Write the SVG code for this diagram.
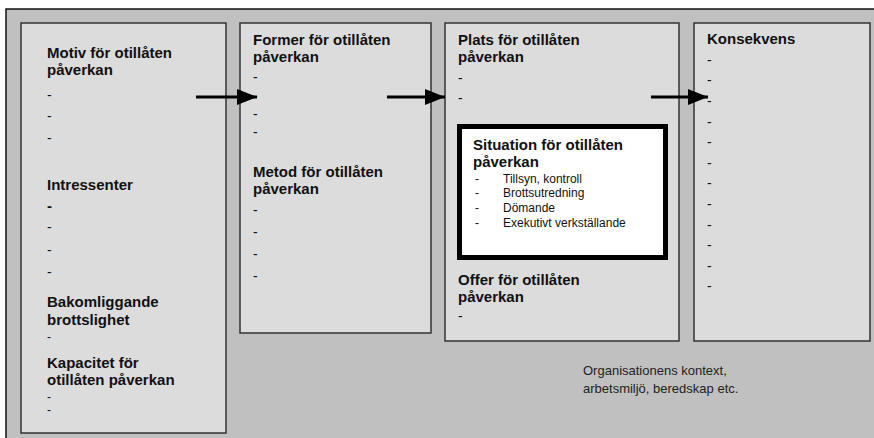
<svg xmlns="http://www.w3.org/2000/svg" width="874" height="438" viewBox="0 0 874 438">
<defs>
<style>
.bg{fill:#c0c0c0;stroke:#111;stroke-width:1.5}
.box{fill:#dcdcdc;stroke:#333;stroke-width:1.5}
.h{font-family:"Liberation Sans",Arial,sans-serif;font-weight:bold;font-size:15px;fill:#111}
.d{font-family:"Liberation Sans",Arial,sans-serif;font-size:14px;fill:#111}
.s{font-family:"Liberation Sans",Arial,sans-serif;font-size:12px;fill:#111}
.c{font-family:"Liberation Sans",Arial,sans-serif;font-size:13px;fill:#222}
.arr{stroke:#000;stroke-width:3;fill:none;marker-end:url(#ah)}
</style>
<marker id="ah" viewBox="0 0 20 16" refX="20" refY="8" markerWidth="20" markerHeight="16" markerUnits="userSpaceOnUse" orient="auto">
<path d="M0,0 L20,8 L0,16 Z" fill="#000"/>
</marker>
</defs>
<rect class="bg" x="6" y="9" width="880" height="440"/>
<g id="motiv">
<rect class="box" x="21" y="23" width="205" height="410"/>
<text class="h" x="47" y="58">Motiv för otillåten</text>
<text class="h" x="47" y="75">påverkan</text>
<text class="d" x="47" y="100">-</text>
<text class="d" x="47" y="121">-</text>
<text class="d" x="47" y="143">-</text>
<text class="h" x="47" y="190">Intressenter</text>
<text class="h" x="47" y="211">-</text>
<text class="d" x="47" y="232">-</text>
<text class="d" x="47" y="255">-</text>
<text class="d" x="47" y="277">-</text>
<text class="h" x="47" y="307">Bakomliggande</text>
<text class="h" x="47" y="325">brottslighet</text>
<text class="s" x="47" y="341">-</text>
<text class="h" x="47" y="368">Kapacitet för</text>
<text class="h" x="47" y="385">otillåten påverkan</text>
<text class="s" x="47" y="401">-</text>
<text class="s" x="47" y="414">-</text>
</g>
<g id="former">
<rect class="box" x="240" y="23" width="191" height="310"/>
<text class="h" x="253" y="45">Former för otillåten</text>
<text class="h" x="253" y="62">påverkan</text>
<text class="d" x="253" y="82">-</text>
<text class="d" x="253" y="101">-</text>
<text class="d" x="253" y="119">-</text>
<text class="d" x="253" y="137">-</text>
<text class="h" x="253" y="177">Metod för otillåten</text>
<text class="h" x="253" y="194">påverkan</text>
<text class="d" x="253" y="215">-</text>
<text class="d" x="253" y="237">-</text>
<text class="d" x="253" y="259">-</text>
<text class="d" x="253" y="281">-</text>
</g>
<g id="plats">
<rect class="box" x="445" y="23" width="234" height="318"/>
<text class="h" x="458" y="45">Plats för otillåten</text>
<text class="h" x="458" y="62">påverkan</text>
<text class="d" x="458" y="83">-</text>
<text class="d" x="458" y="103">-</text>
<text class="h" x="458" y="285">Offer för otillåten</text>
<text class="h" x="458" y="302">påverkan</text>
<text class="d" x="458" y="321">-</text>
</g>
<g id="situation">
<rect x="459.5" y="126.5" width="206" height="131" fill="#fff" stroke="#000" stroke-width="5"/>
<text class="h" x="473" y="150">Situation för otillåten</text>
<text class="h" x="473" y="167">påverkan</text>
<text class="s" x="475" y="183">-</text>
<text class="s" x="503" y="183">Tillsyn, kontroll</text>
<text class="s" x="475" y="197">-</text>
<text class="s" x="503" y="197">Brottsutredning</text>
<text class="s" x="475" y="212">-</text>
<text class="s" x="503" y="212">Dömande</text>
<text class="s" x="475" y="227">-</text>
<text class="s" x="503" y="227">Exekutivt verkställande</text>
</g>
<g id="konsekvens">
<rect class="box" x="694" y="23" width="176" height="318"/>
<text class="h" x="707" y="44">Konsekvens</text>
<text class="d" x="707" y="65">-</text>
<text class="d" x="707" y="85">-</text>
<text class="d" x="707" y="106">-</text>
<text class="d" x="707" y="127">-</text>
<text class="d" x="707" y="147">-</text>
<text class="d" x="707" y="168">-</text>
<text class="d" x="707" y="188">-</text>
<text class="d" x="707" y="209">-</text>
<text class="d" x="707" y="230">-</text>
<text class="d" x="707" y="250">-</text>
<text class="d" x="707" y="271">-</text>
<text class="d" x="707" y="291">-</text>
</g>
<g id="kontext">
<text class="c" x="583" y="375">Organisationens kontext,</text>
<text class="c" x="583" y="393">arbetsmiljö, beredskap etc.</text>
</g>
<g id="connectors">
<line class="arr" x1="196" y1="97" x2="257" y2="97"/>
<line class="arr" x1="387" y1="97" x2="445" y2="97"/>
<line class="arr" x1="651" y1="97" x2="708" y2="97"/>
</g>
</svg>
